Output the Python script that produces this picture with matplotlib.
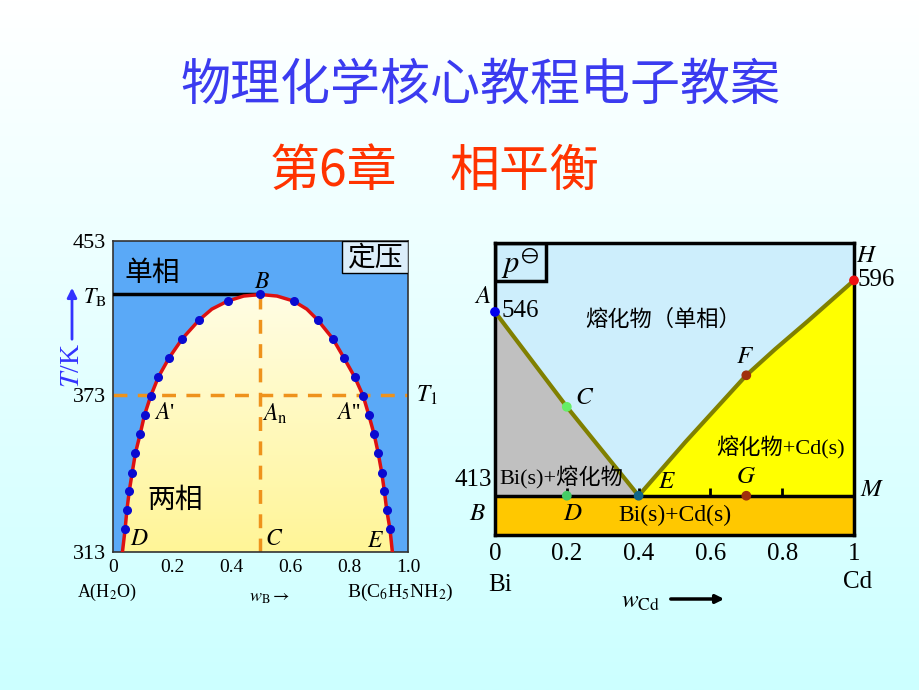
import numpy as np
import matplotlib
matplotlib.use('Agg')
from matplotlib import pyplot as plt
from matplotlib.patches import Polygon, Rectangle
from matplotlib.colors import LinearSegmentedColormap

plt.rcParams['font.family'] = ['Liberation Serif', 'Noto Sans CJK SC']
plt.rcParams['mathtext.fontset'] = 'stix'
plt.rcParams['axes.unicode_minus'] = False

CJK = ['Noto Sans CJK SC', 'DejaVu Sans']
SER = ['Liberation Serif', 'Noto Sans CJK SC']

#%% 左图：水-苯胺 部分互溶双液系（纵坐标为示意高度）
curve_w = [0.032, 0.041, 0.047, 0.055, 0.065, 0.076, 0.092, 0.107, 0.128, 0.154,
           0.190, 0.235, 0.292, 0.335, 0.389, 0.443, 0.500, 0.556, 0.612, 0.657,
           0.694, 0.745, 0.783, 0.819, 0.848, 0.867, 0.885, 0.899, 0.911, 0.920,
           0.928, 0.939, 0.947]
curve_h = [0.0, 0.073, 0.134, 0.195, 0.255, 0.318, 0.379, 0.441, 0.502, 0.563,
           0.624, 0.686, 0.746, 0.781, 0.807, 0.823, 0.828, 0.823, 0.807, 0.781,
           0.746, 0.686, 0.624, 0.563, 0.502, 0.441, 0.379, 0.318, 0.255, 0.195,
           0.134, 0.073, 0.0]
dot_w = [0.041, 0.047, 0.055, 0.065, 0.076, 0.092, 0.107, 0.128, 0.154, 0.190,
         0.235, 0.292, 0.389, 0.500, 0.612, 0.694, 0.745, 0.783, 0.819, 0.848,
         0.867, 0.885, 0.899, 0.911, 0.920, 0.928, 0.939]
dot_h = [0.073, 0.134, 0.195, 0.255, 0.318, 0.379, 0.441, 0.502, 0.563, 0.624,
         0.686, 0.746, 0.807, 0.828, 0.807, 0.746, 0.686, 0.624, 0.563, 0.502,
         0.441, 0.379, 0.318, 0.255, 0.195, 0.134, 0.073]
B_w, B_h = 0.5, 0.828
T1_h = 0.505
T_ticks = [0, 0.505, 0.828, 1.0]
T_labels = ['313', '373', r'$T_\mathrm{B}$', '453']
wB_ticks = [0, 0.2, 0.4, 0.6, 0.8, 1.0]
wB_labels = ['0', '0.2', '0.4', '0.6', '0.8', '1.0']

#%% 右图：Bi-Cd 简单低共熔系统
liqA_w = [0.0, 0.2, 0.4]
liqA_h = [0.764, 0.439, 0.1345]
liqH_w = [0.4, 0.53, 0.7, 0.78, 0.87, 1.0]
liqH_h = [0.1345, 0.318, 0.547, 0.636, 0.731, 0.872]
eut_h = 0.1345
pt_w = [0.0, 0.2, 0.7, 1.0, 0.4, 0.2, 0.7]
pt_h = [0.764, 0.439, 0.547, 0.872, 0.1345, 0.1345, 0.1345]
pt_c = ['#0000ee', '#66ee66', '#a0300c', '#ee1111', '#116688', '#44cc66', '#a0300c']
line_ticks = [0.2, 0.4, 0.6, 0.8]
wCd_ticks = [0, 0.2, 0.4, 0.6, 0.8, 1.0]
wCd_labels = ['0', '0.2', '0.4', '0.6', '0.8', '1']

fig = plt.figure(figsize=(9.2, 6.9), dpi=100)

# 背景渐变
bg = fig.add_axes([0, 0, 1, 1], zorder=-10)
bg_cmap = LinearSegmentedColormap.from_list('bg', ['#ccffff', '#ffffff'])
bg.imshow(np.linspace(0, 1, 256).reshape(-1, 1), cmap=bg_cmap, aspect='auto',
          origin='lower', extent=(0, 1, 0, 1))
bg.axis('off')

fig.text(0.522, 1 - 86/690, '物理化学核心教程电子教案', fontsize=36, color='#3b3bf0',
         family=CJK, ha='center', va='center')
fig.text(270/920, 1 - 172/690, '第6章', fontsize=36, color='#ff3300',
         family=CJK, ha='left', va='center')
fig.text(450/920, 1 - 172/690, '相平衡', fontsize=36, color='#ff3300',
         family=CJK, ha='left', va='center')

#%% 左图
ax1 = fig.add_axes([113/920, 138/690, 295/920, 311/690])
ax1.set_facecolor('#5aa9f7')
poly = Polygon(list(zip(curve_w, curve_h)), closed=True, fc='none', ec='none')
ax1.add_patch(poly)
yl_cmap = LinearSegmentedColormap.from_list('yl', ['#fff597', '#fffde4'])
im = ax1.imshow(np.linspace(0, 1, 256).reshape(-1, 1), cmap=yl_cmap, aspect='auto',
                origin='lower', extent=(0, 1, 0, B_h), zorder=1)
im.set_clip_path(poly)
ax1.plot([0, B_w], [B_h, B_h], color='k', lw=2.5, zorder=3)
ax1.plot([B_w, B_w], [0, B_h], color='#ee921c', lw=2.5, ls=(0, (4, 3)), zorder=2)
ax1.plot([0, 1], [T1_h, T1_h], color='#ee921c', lw=2.5, ls=(0, (4, 3)), zorder=2)
ax1.plot(curve_w, curve_h, color='#dd1111', lw=2.5, zorder=4)
ax1.plot(dot_w, dot_h, 'o', color='#0a0ad0', ms=5.5, zorder=5)
ax1.set_xlim(0, 1)
ax1.set_ylim(0, 1)
ax1.set_xticks(wB_ticks)
ax1.set_xticklabels(wB_labels, fontsize=14)
ax1.set_yticks(T_ticks)
ax1.set_yticklabels(T_labels, fontsize=16)
ax1.tick_params(length=0, pad=5)
for s in ax1.spines.values():
    s.set_color('#333333')
    s.set_linewidth(1.2)

ax1.add_patch(Rectangle((0.777, 0.897), 0.223, 0.103, transform=ax1.transAxes,
                        fc='#dceefa', ec='k', lw=1, zorder=6))
ax1.text(0.888, 0.948, '定压', fontsize=20, family=CJK, ha='center', va='center',
         transform=ax1.transAxes, zorder=7)
ax1.text(0.04, 0.897, '单相', fontsize=20, family=CJK, ha='left', va='center')
ax1.text(0.21, 0.167, '两相', fontsize=20, family=CJK, ha='center', va='center')
ax1.text(0.505, 0.868, '$B$', fontsize=17, ha='center', va='center')
ax1.text(0.175, 0.445, "$A$'", fontsize=17, ha='center', va='center')
ax1.text(0.55, 0.445, r'$A_\mathrm{n}$', fontsize=17, ha='center', va='center')
ax1.text(0.80, 0.445, "$A$''", fontsize=17, ha='center', va='center')
ax1.text(0.09, 0.04, '$D$', fontsize=17, ha='center', va='center')
ax1.text(0.546, 0.04, '$C$', fontsize=17, ha='center', va='center')
ax1.text(0.89, 0.035, '$E$', fontsize=17, ha='center', va='center')

fig.text(416/920, 1 - 395/690, r'$T_1$', fontsize=17, ha='left', va='center')
fig.text(107/920, 1 - 592/690, r'A(H$_2$O)', fontsize=13, ha='center', va='center')
fig.text(270/920, 1 - 598/690, r'$w_\mathrm{B}\rightarrow$', fontsize=13, ha='center', va='center')
fig.text(400/920, 1 - 592/690, r'B(C$_6$H$_5$NH$_2$)', fontsize=14, ha='center', va='center')
fig.text(73/920, 1 - 366/690, '$T$/K', fontsize=20, color='#3333ff', rotation=90,
         ha='center', va='center')
fig.add_artist(matplotlib.patches.FancyArrowPatch(
    (72/920, 1 - 342/690), (72/920, 1 - 285/690), transform=fig.transFigure,
    arrowstyle='-|>', mutation_scale=14, color='#3333ff', lw=2))

#%% 右图
ax2 = fig.add_axes([495/920, 155/690, 359/920, 292/690])
ax2.set_facecolor('#cdeefc')
ax2.axhspan(0, eut_h, color='#ffc800', zorder=1)
ax2.add_patch(Polygon(list(zip(liqA_w, liqA_h)) + [(0, eut_h)], closed=True,
                      fc='#c0c0c0', ec='none', zorder=1))
ax2.add_patch(Polygon(list(zip(liqH_w, liqH_h)) + [(1, eut_h)], closed=True,
                      fc='#ffff00', ec='none', zorder=1))
ax2.plot(liqA_w, liqA_h, color='#808000', lw=3, zorder=3)
ax2.plot(liqH_w, liqH_h, color='#808000', lw=3, zorder=3)
ax2.axhline(eut_h, color='k', lw=2.5, zorder=3)
ax2.vlines(line_ticks, eut_h, eut_h + 0.025, color='k', lw=2, zorder=3)
ax2.scatter(pt_w, pt_h, s=36, c=pt_c, zorder=5, clip_on=False)
ax2.set_xlim(0, 1)
ax2.set_ylim(0, 1)
ax2.set_xticks(wCd_ticks)
ax2.set_xticklabels(wCd_labels, fontsize=18)
ax2.set_yticks([])
ax2.tick_params(length=0)
ax2.tick_params(axis='x', pad=6)
for s in ax2.spines.values():
    s.set_color('k')
    s.set_linewidth(2.5)

ax2.add_patch(Rectangle((0, 0.87), 0.142, 0.13, transform=ax2.transAxes,
                        fc='none', ec='k', lw=2.5, zorder=6))
ax2.text(0.07, 0.93, r'$p^{\ominus}$', fontsize=22, ha='center', va='center')
ax2.text(-0.035, 0.815, '$A$', fontsize=18, ha='center', va='center', clip_on=False)
ax2.text(0.018, 0.767, '546', fontsize=18, ha='left', va='center')
ax2.text(1.036, 0.955, '$H$', fontsize=18, ha='center', va='center', clip_on=False)
ax2.text(1.01, 0.872, '596', fontsize=18, ha='left', va='center', clip_on=False)
ax2.text(-0.008, 0.19, '413', fontsize=18, ha='right', va='center', clip_on=False)
ax2.text(0.468, 0.736, '熔化物（单相）', fontsize=16, family=SER, ha='center', va='center')
ax2.text(0.696, 0.61, '$F$', fontsize=18, ha='center', va='center')
ax2.text(0.25, 0.469, '$C$', fontsize=18, ha='center', va='center')
ax2.text(0.794, 0.30, '熔化物+Cd(s)', fontsize=16, family=SER, ha='center', va='center')
ax2.text(0.012, 0.195, 'Bi(s)+熔化物', fontsize=16, family=SER, ha='left', va='center')
ax2.text(0.479, 0.18, '$E$', fontsize=18, ha='center', va='center')
ax2.text(0.70, 0.197, '$G$', fontsize=18, ha='center', va='center')
ax2.text(1.05, 0.154, '$M$', fontsize=18, ha='center', va='center', clip_on=False)
ax2.text(-0.05, 0.072, '$B$', fontsize=18, ha='center', va='center', clip_on=False)
ax2.text(0.217, 0.072, '$D$', fontsize=18, ha='center', va='center')
ax2.text(0.5, 0.068, 'Bi(s)+Cd(s)', fontsize=17, family=SER, ha='center', va='center')

fig.text(500/920, 1 - 585/690, 'Bi', fontsize=18, ha='center', va='center')
fig.text(858/920, 1 - 582/690, 'Cd', fontsize=18, ha='center', va='center')
fig.text(640/920, 1 - 602/690, r'$w_\mathrm{Cd}$', fontsize=18, ha='center', va='center')
fig.add_artist(matplotlib.patches.FancyArrowPatch(
    (668/920, 1 - 599/690), (727/920, 1 - 599/690), transform=fig.transFigure,
    arrowstyle='-|>', mutation_scale=12, color='k', lw=2.5))

fig.savefig('out.png', dpi=100)
